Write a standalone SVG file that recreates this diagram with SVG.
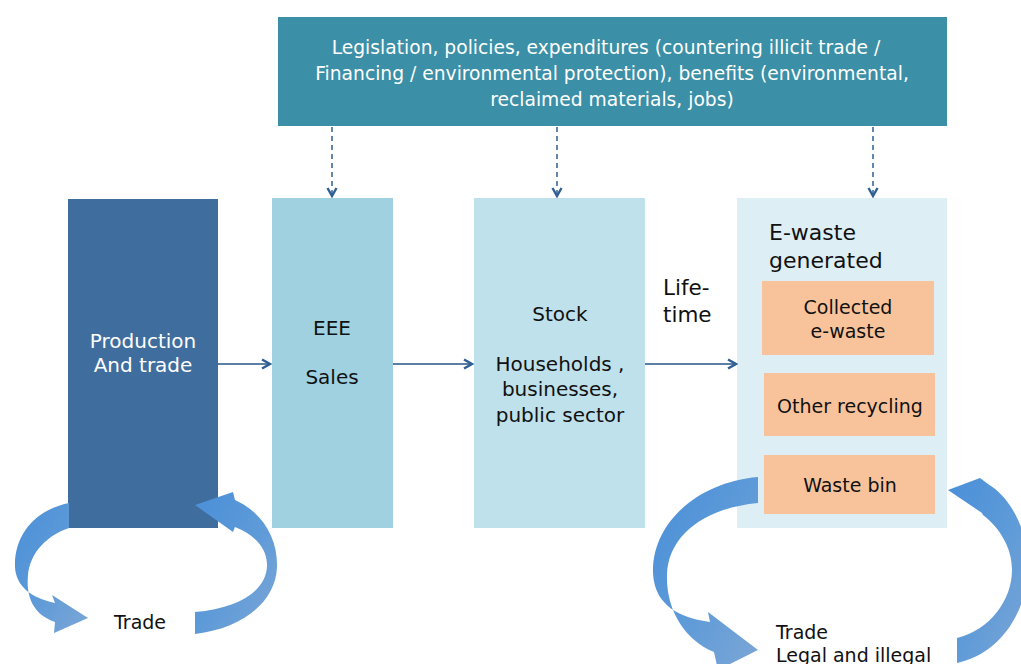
<svg xmlns="http://www.w3.org/2000/svg" width="1021" height="664" viewBox="0 0 1021 664">
<style>
  text { font-family: "DejaVu Sans", "Liberation Sans", Arial, sans-serif; }
  .w { fill: #ffffff; }
  .d { fill: #111111; }
  .c { text-anchor: middle; }
  .flow { stroke: #5a7fa3; stroke-width: 2; fill: none; }
  .dash { stroke: #3b6a9c; stroke-width: 1.6; stroke-dasharray: 5 4; fill: none; }
  .curve { fill: url(#cg); }
</style>
<defs>
  <marker id="chev" viewBox="0 0 12 12" refX="10" refY="6" markerWidth="12" markerHeight="12" markerUnits="userSpaceOnUse" orient="auto">
    <path d="M2,1.5 L10,6 L2,10.5" fill="none" stroke="#2f5f93" stroke-width="2.4"/>
  </marker>
  <linearGradient id="cg" x1="0" y1="0" x2="1" y2="1">
    <stop offset="0" stop-color="#4a8fd8"/>
    <stop offset="0.5" stop-color="#5d9ad8"/>
    <stop offset="1" stop-color="#7ca6d6"/>
  </linearGradient>
</defs>
<rect width="1021" height="664" fill="#ffffff"/>

<g id="policy">
  <rect x="278" y="17" width="669" height="109" fill="#3b8fa6"/>
  <text class="w c" x="606" y="54" font-size="18.7">Legislation, policies, expenditures (countering illicit trade /</text>
  <text class="w c" x="612" y="80" font-size="18.7">Financing / environmental protection), benefits (environmental,</text>
  <text class="w c" x="612" y="106" font-size="18.7">reclaimed materials, jobs)</text>
</g>

<g id="production">
  <rect x="68" y="199" width="150" height="329" fill="#3f6e9e"/>
  <text class="w c" x="143" y="348" font-size="20">Production</text>
  <text class="w c" x="143" y="372" font-size="20">And trade</text>
</g>

<g id="eee">
  <rect x="272" y="198" width="121" height="330" fill="#9fd1e1"/>
  <text class="d c" x="332" y="335" font-size="20">EEE</text>
  <text class="d c" x="332" y="384" font-size="20">Sales</text>
</g>

<g id="stock">
  <rect x="474" y="198" width="171" height="330" fill="#bfe1eb"/>
  <text class="d c" x="560" y="321" font-size="20">Stock</text>
  <text class="d c" x="560" y="371" font-size="20">Households ,</text>
  <text class="d c" x="560" y="396" font-size="20">businesses,</text>
  <text class="d c" x="560" y="422" font-size="20">public sector</text>
</g>

<g id="lifetime">
  <text class="d" x="663" y="295" font-size="21.5">Life-</text>
  <text class="d" x="663" y="322" font-size="21.5">time</text>
</g>

<g id="ewaste">
  <rect x="737" y="198" width="210" height="330" fill="#ddeef4"/>
  <text class="d" x="769" y="240" font-size="22">E-waste</text>
  <text class="d" x="769" y="268" font-size="22">generated</text>
</g>

<g id="collected">
  <rect x="762" y="281" width="172" height="74" fill="#f8c39b"/>
  <text class="d c" x="848" y="314" font-size="19">Collected</text>
  <text class="d c" x="848" y="338" font-size="19">e-waste</text>
</g>

<g id="other">
  <rect x="764" y="373" width="171" height="63" fill="#f8c39b"/>
  <text class="d c" x="850" y="413" font-size="19">Other recycling</text>
</g>

<g id="wastebin">
  <rect x="764" y="455" width="171" height="59" fill="#f8c39b"/>
  <text class="d c" x="850" y="492" font-size="19">Waste bin</text>
</g>

<g id="trade-left">
  <text class="d" x="114" y="629" font-size="19">Trade</text>
</g>

<g id="trade-right">
  <text class="d" x="776" y="639" font-size="19">Trade</text>
  <text class="d" x="776" y="662" font-size="19">Legal and illegal</text>
</g>

<g id="connectors">
  <line class="flow" x1="218" y1="364" x2="270" y2="364" marker-end="url(#chev)"/>
  <line class="flow" x1="393" y1="364" x2="472" y2="364" marker-end="url(#chev)"/>
  <line class="flow" x1="645" y1="364" x2="736" y2="364" marker-end="url(#chev)"/>
  <line class="dash" x1="332" y1="127" x2="332" y2="196" marker-end="url(#chev)"/>
  <line class="dash" x1="557" y1="127" x2="557" y2="196" marker-end="url(#chev)"/>
  <line class="dash" x1="873" y1="127" x2="873" y2="196" marker-end="url(#chev)"/>
  <path class="curve" d="M69,503 C35,510 14,535 15,567 C16,587 32,598 55,603 L52,595 L88,618 L54,633 L55,622 C33,614 26,597 28,575 C30,552 48,535 69,528 Z"/>
  <path class="curve" d="M195,612 C240,608 267,590 267,565 C267,548 255,535 235,527 L233,532 L195,505 L233,492 L235,500 C262,512 278,538 277,567 C276,600 245,628 195,634 Z"/>
  <path class="curve" d="M758,477 C700,482 655,520 653,568 C652,598 670,617 710,622 L708,612 L758,650 L718,670 L714,652 C685,640 666,610 667,575 C668,535 705,508 758,503 Z"/>
  <path class="curve" d="M957,638 C990,630 1012,600 1012,570 C1012,548 1000,528 983,515 L982,513 L948,490 L980,478 L988,484 C1015,500 1030,540 1028,570 C1025,620 995,655 957,663 Z"/>
</g>
</svg>
